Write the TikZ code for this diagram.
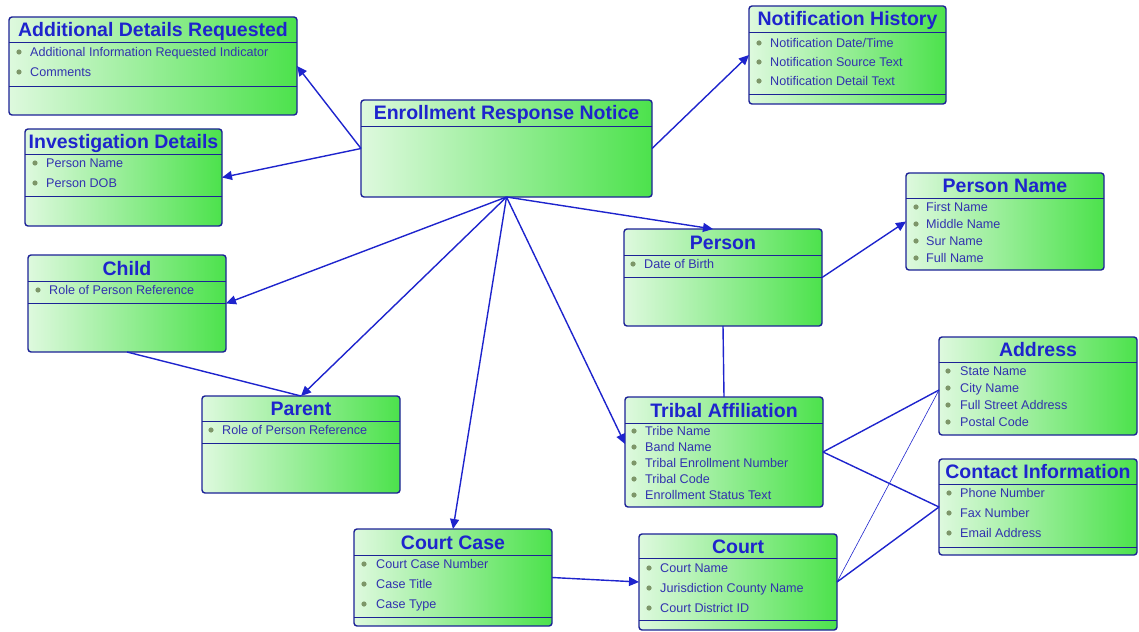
\documentclass[tikz,border=0pt]{standalone}
\usepackage{fontspec}
\setmainfont{Liberation Sans}
\usetikzlibrary{arrows.meta}

\definecolor{erdgreen}{RGB}{76,226,76}
\definecolor{erdlight}{RGB}{222,249,222}
\definecolor{erdnavy}{RGB}{28,34,150}
\definecolor{erdblue}{RGB}{30,36,205}
\definecolor{erdtext}{RGB}{50,50,175}
\definecolor{erddot}{RGB}{125,150,105}

% horizontal rule inside an entity, #2 pt below its top
\newcommand{\entsep}[2]{\draw[divider] ([yshift=-#2pt]#1.north west) -- ([yshift=-#2pt]#1.north east);}

\begin{document}
\begin{tikzpicture}[x=1pt,y=-1pt,
        entity/.style={rectangle,rounded corners=3pt,draw=erdnavy,line width=1.4pt,
            left color=erdlight,right color=erdgreen,anchor=north west,inner sep=0pt,outer sep=0pt},
        etitle/.style={font=\fontsize{19.5}{20}\selectfont\bfseries,text=erdblue,inner sep=0pt,
            text height=14pt,text depth=0pt},
        divider/.style={draw=erdnavy,line width=0.9pt},
        attr/.style={anchor=west,font=\fontsize{12.6}{13}\selectfont,text=erdtext,inner sep=0pt,
            text height=9pt,text depth=0pt},
        attrdot/.style={fill=erddot},
        arr/.style={draw=erdblue,line width=1.4pt,-{Triangle[length=10pt,width=9pt]}},
        link/.style={draw=erdblue,line width=1.4pt},
        thinlink/.style={draw=erdblue,line width=0.6pt}
        ]
        \useasboundingbox (0,0) rectangle (1139,631);

        % entities
        \node (adr) [entity,minimum width=288pt,minimum height=98pt] at (9,17) {};
        \node [etitle] at ([yshift=-12.5pt]adr.north) {Additional Details Requested};
        \entsep{adr}{25} \entsep{adr}{69}
        \foreach \y/\t in {52/Additional Information Requested Indicator,72/Comments}
            {\fill[attrdot] (19,\y) circle (2.6pt); \node[attr] at (30,\y) {\t};}

        \node (inv) [entity,minimum width=197pt,minimum height=97pt] at (25,129) {};
        \node [etitle] at ([yshift=-12.5pt]inv.north) {Investigation Details};
        \entsep{inv}{25} \entsep{inv}{67}
        \foreach \y/\t in {163/Person Name,183/Person DOB}
            {\fill[attrdot] (35,\y) circle (2.6pt); \node[attr] at (46,\y) {\t};}

        \node (ern) [entity,minimum width=291pt,minimum height=97pt] at (361,100) {};
        \node [etitle] at ([yshift=-13pt]ern.north) {Enrollment Response Notice};
        \entsep{ern}{26}

        \node (nh) [entity,minimum width=197pt,minimum height=98pt] at (749,6) {};
        \node [etitle] at ([yshift=-13pt]nh.north) {Notification History};
        \entsep{nh}{26} \entsep{nh}{88}
        \foreach \y/\t in {43/{Notification Date/Time},62/Notification Source Text,81/Notification Detail Text}
            {\fill[attrdot] (759,\y) circle (2.6pt); \node[attr] at (770,\y) {\t};}

        \node (pname) [entity,minimum width=198pt,minimum height=97pt] at (906,173) {};
        \node [etitle] at ([yshift=-12.5pt]pname.north) {Person Name};
        \entsep{pname}{25}
        \foreach \y/\t in {207/First Name,224/Middle Name,241/Sur Name,258/Full Name}
            {\fill[attrdot] (916,\y) circle (2.6pt); \node[attr] at (926,\y) {\t};}

        \node (person) [entity,minimum width=198pt,minimum height=97pt] at (624,229) {};
        \node [etitle] at ([yshift=-13pt]person.north) {Person};
        \entsep{person}{26} \entsep{person}{48}
        \fill[attrdot] (633,264) circle (2.6pt); \node[attr] at (644,264) {Date of Birth};

        \node (child) [entity,minimum width=198pt,minimum height=97pt] at (28,255) {};
        \node [etitle] at ([yshift=-13pt]child.north) {Child};
        \entsep{child}{26} \entsep{child}{48}
        \fill[attrdot] (38,290) circle (2.6pt); \node[attr] at (49,290) {Role of Person Reference};

        \node (parent) [entity,minimum width=198pt,minimum height=97pt] at (202,396) {};
        \node [etitle] at ([yshift=-12.5pt]parent.north) {Parent};
        \entsep{parent}{25} \entsep{parent}{47}
        \fill[attrdot] (211,430) circle (2.6pt); \node[attr] at (222,430) {Role of Person Reference};

        \node (tribal) [entity,minimum width=198pt,minimum height=110pt] at (625,397) {};
        \node [etitle] at ([yshift=-13pt]tribal.north) {Tribal Affiliation};
        \entsep{tribal}{26}
        \foreach \y/\t in {431/Tribe Name,447/Band Name,463/Tribal Enrollment Number,479/Tribal Code,495/Enrollment Status Text}
            {\fill[attrdot] (634,\y) circle (2.6pt); \node[attr] at (645,\y) {\t};}

        \node (address) [entity,minimum width=198pt,minimum height=98pt] at (939,337) {};
        \node [etitle] at ([yshift=-12.5pt]address.north) {Address};
        \entsep{address}{25}
        \foreach \y/\t in {371/State Name,388/City Name,405/Full Street Address,422/Postal Code}
            {\fill[attrdot] (948,\y) circle (2.6pt); \node[attr] at (960,\y) {\t};}

        \node (contact) [entity,minimum width=198pt,minimum height=96pt] at (939,459) {};
        \node [etitle] at ([yshift=-12.5pt]contact.north) {Contact Information};
        \entsep{contact}{25} \entsep{contact}{88}
        \foreach \y/\t in {493/Phone Number,513/Fax Number,533/Email Address}
            {\fill[attrdot] (949,\y) circle (2.6pt); \node[attr] at (960,\y) {\t};}

        \node (courtcase) [entity,minimum width=198pt,minimum height=97pt] at (354,529) {};
        \node [etitle] at ([yshift=-13pt]courtcase.north) {Court Case};
        \entsep{courtcase}{26} \entsep{courtcase}{88}
        \foreach \y/\t in {564/Court Case Number,584/Case Title,604/Case Type}
            {\fill[attrdot] (364,\y) circle (2.6pt); \node[attr] at (376,\y) {\t};}

        \node (court) [entity,minimum width=198pt,minimum height=96pt] at (639,534) {};
        \node [etitle] at ([yshift=-12pt]court.north) {Court};
        \entsep{court}{24} \entsep{court}{86}
        \foreach \y/\t in {568/Court Name,588/Jurisdiction County Name,608/Court District ID}
            {\fill[attrdot] (649,\y) circle (2.6pt); \node[attr] at (660,\y) {\t};}

        % relations
        \draw[arr] (ern.west) -- (adr.east);
        \draw[arr] (ern.west) -- (inv.east);
        \draw[arr] (ern.east) -- (nh.west);
        \draw[arr] (ern.south) -- ([xshift=-10pt]person.north);
        \draw[arr] (ern.south) -- (child.east);
        \draw[arr] (ern.south) -- (parent.north);
        \draw[arr] (ern.south) -- (courtcase.north);
        \draw[arr] (ern.south) -- ([yshift=8pt]tribal.west);
        \draw[arr] (person.east) -- (pname.west);
        \draw[link] (person.south) -- (tribal.north);
        \draw[link] (child.south) -- (parent.north);
        \draw[arr] (courtcase.east) -- (court.west);
        \draw[link] (tribal.east) -- ([yshift=-4pt]address.west);
        \draw[link] (tribal.east) -- (contact.west);
        \draw[thinlink] (court.east) -- ([yshift=-4pt]address.west);
        \draw[link] (court.east) -- (contact.west);
    \end{tikzpicture}
\end{document}
